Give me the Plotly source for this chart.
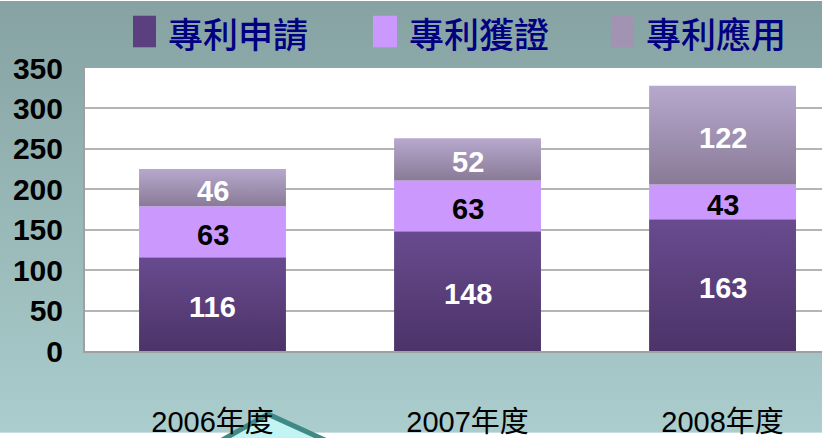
import plotly.graph_objects as go
import base64

# ---------------- data ----------------
categories = ["2006年度", "2007年度", "2008年度"]
series_names = ["專利申請", "專利獲證", "專利應用"]
apply_vals = [116, 148, 163]
granted_vals = [63, 63, 43]
used_vals = [46, 52, 122]
y_ticks = [0, 50, 100, 150, 200, 250, 300, 350]

# ---------------- styles ----------------
W, H = 822, 438
ML, MR, MT, MB = 85, 0, 68, 83
series_vals = [apply_vals, granted_vals, used_vals]
grad = [("#4c3368", "#684b8f"), ("#cb99fd", "#cb99fd"), ("#897a97", "#b7a9cd")]
label_colors = ["white", "black", "white"]
bar_w = 0.576
num_font = "Liberation Sans Narrow, Arial Narrow, Liberation Sans, Arial, sans-serif"
cjk_font = "Liberation Sans Narrow, Liberation Sans, Noto Sans CJK TC, sans-serif"

fig = go.Figure()

x_idx = list(range(len(categories)))
base = [0] * len(categories)
for s, vals in enumerate(series_vals):
    for i, v in enumerate(vals):
        b0, b1 = base[i], base[i] + v
        x0, x1 = i - bar_w / 2, i + bar_w / 2
        fig.add_trace(go.Scatter(
            x=[x0, x1, x1, x0, x0], y=[b0, b0, b1, b1, b0],
            mode="lines", fill="toself", line=dict(width=0),
            fillgradient=dict(type="vertical",
                              colorscale=[[0, grad[s][0]], [1, grad[s][1]]]),
            hoverinfo="skip", showlegend=False))
        fig.add_annotation(x=i, y=b0 + v / 2, xref="x", yref="y",
                           text=str(v), showarrow=False, yshift=-3,
                           xanchor="center", yanchor="middle",
                           font=dict(family=num_font, size=29,
                                     color=label_colors[s], weight="bold"))
    base = [base[i] + vals[i] for i in x_idx]

# ---------------- background gradient ----------------
svg = f'''<svg xmlns="http://www.w3.org/2000/svg" width="{W}" height="{H}" viewBox="0 0 {W} {H}" preserveAspectRatio="none">
<defs><linearGradient id="g" x1="0" y1="0" x2="0" y2="1">
<stop offset="0" stop-color="#86a2a2"/><stop offset="1" stop-color="#abcdcd"/></linearGradient></defs>
<rect width="{W}" height="{H}" fill="url(#g)"/></svg>'''
uri = "data:image/svg+xml;base64," + base64.b64encode(svg.encode()).decode()

pw, ph = W - ML - MR, H - MT - MB
def px(x):
    return (x - ML) / pw
def py(y):
    return (H - MB - y) / ph

fig.add_layout_image(dict(source=uri, xref="paper", yref="paper",
                          x=px(0), y=py(0), sizex=W / pw, sizey=H / ph,
                          xanchor="left", yanchor="top", sizing="stretch",
                          layer="below"))

# white plot area (above the gradient image, below gridlines)
fig.add_shape(type="rect", xref="paper", yref="paper", x0=0, x1=1, y0=0, y1=1,
              fillcolor="white", line=dict(width=0), layer="below")

# ---------------- legend (manual) ----------------
leg_sq = [(133, 156), (373, 397), (611, 634)]
leg_solid = ["#5b4080", "#cb99fd", "#a293b3"]
for k, name in enumerate(series_names):
    xa, xb = leg_sq[k]
    fig.add_shape(type="rect", xref="paper", yref="paper",
                  x0=px(xa), x1=px(xb), y0=py(47), y1=py(15),
                  fillcolor=leg_solid[k], line=dict(width=0))
    fig.add_annotation(xref="paper", yref="paper", x=px(xb + 10), y=py(32),
                       xanchor="left", yanchor="middle", showarrow=False,
                       text=name,
                       font=dict(family="Noto Sans CJK TC, sans-serif",
                                 size=35, color="#000080", weight=500))

# decorative diamond at the bottom
pts = [(214, 450), (268, 419), (335, 450)]
path = "M " + " L ".join(f"{px(a)},{py(b)}" for a, b in pts) + " Z"
fig.add_shape(type="path", xref="paper", yref="paper", path=path,
              fillcolor="#c2f4f4", line=dict(color="#3f8a85", width=5),
              layer="below")

fig.update_layout(
    width=W, height=H,
    margin=dict(l=ML, r=MR, t=MT, b=MB),
    paper_bgcolor="rgba(0,0,0,0)",
    plot_bgcolor="rgba(0,0,0,0)",
    showlegend=False,
    hovermode=False,
    xaxis=dict(range=[-0.5, 2.39], tickvals=x_idx, ticktext=categories,
               showgrid=False, zeroline=False, showline=True,
               linecolor="#a0a0a0", linewidth=2, ticks="",
               ticklabelstandoff=44, fixedrange=True,
               tickfont=dict(family=cjk_font, size=29, color="black")),
    yaxis=dict(range=[0, 350], tickvals=y_ticks, showgrid=True,
               gridcolor="#b4b4b4", gridwidth=1.5, zeroline=False,
               showline=True, linecolor="#a0a0a0", linewidth=2, ticks="",
               ticklabelstandoff=14, fixedrange=True,
               tickfont=dict(family=num_font, size=30, color="black",
                             weight="bold")),
)

fig.write_html("out.html", config={"displayModeBar": False},
               post_script="document.body.style.margin='0';document.body.style.overflow='hidden';")
